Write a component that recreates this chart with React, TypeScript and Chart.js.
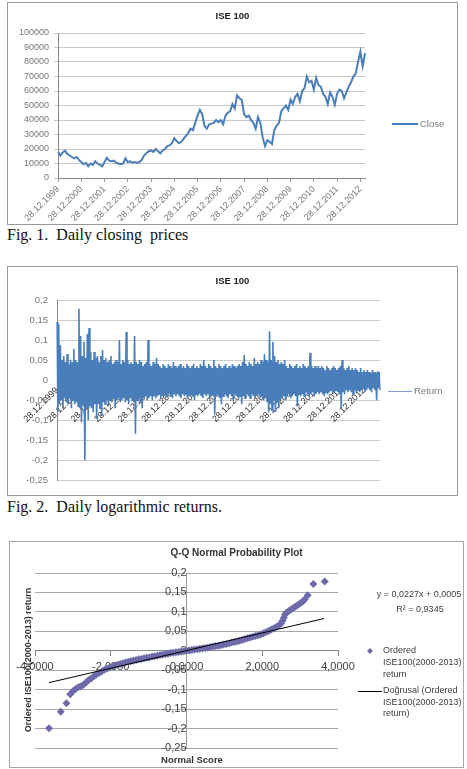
import { useEffect, useRef } from 'react';
import { Chart, registerables } from 'chart.js';

Chart.register(...registerables);

const FONT = '"Liberation Sans", Arial, Helvetica, sans-serif';
const SERIF = '"Liberation Serif", "Times New Roman", serif';

// ---------- Fig. 1 : daily closing prices ----------
const closeTitle = 'ISE 100';
const closeLegend = 'Close';
const closeTickLabels = [
  '28.12.1999', '28.12.2000', '28.12.2001', '28.12.2002', '28.12.2003', '28.12.2004', '28.12.2005',
  '28.12.2006', '28.12.2007', '28.12.2008', '28.12.2009', '28.12.2010', '28.12.2011', '28.12.2012',
];
const closeValues = [
  18000, 15500, 17500, 19000, 16500, 15500, 14500, 13500, 14500, 12500,
  11000, 9500, 10500, 8000, 10000, 9000, 11500, 10000, 9000, 8000,
  11000, 14000, 12000, 11500, 12000, 10500, 10000, 9500, 10000, 13500,
  11000, 11500, 10500, 11000, 10500, 11000, 12500, 15500, 17000, 18500,
  19000, 18000, 20000, 18500, 17000, 19000, 20000, 22000, 22500, 24000,
  27500, 25500, 24000, 25000, 27000, 29000, 31000, 34000, 33000, 38000,
  43000, 47000, 44000, 36000, 34000, 37000, 37500, 38000, 40000, 38500,
  40000, 37000, 43000, 45000, 46000, 51000, 48000, 57000, 55000, 54000,
  44000, 42000, 43000, 40000, 38000, 34000, 42000, 38000, 28000, 22000,
  26000, 25000, 23500, 33000, 36000, 38000, 46000, 48000, 50000, 47000,
  54000, 51000, 56000, 58000, 53000, 60000, 62000, 70000, 66000, 67000,
  61000, 69000, 64000, 63000, 58000, 56000, 51000, 59000, 56000, 50500,
  58000, 61000, 60000, 55000, 59000, 63000, 66000, 70000, 72000, 80000,
  87000, 77000, 86000,
];
const closeTickEvery = 10;

// ---------- Fig. 2 : daily log returns (per-bin high / low) ----------
const returnTitle = 'ISE 100';
const returnLegend = 'Return';
const returnTickLabels = [
  '28.12.1999', '28.12.2000', '28.12.2001', '28.12.2002', '28.12.2003', '28.12.2004', '28.12.2005',
  '28.12.2006', '28.12.2007', '28.12.2008', '28.12.2009', '28.12.2010', '28.12.2011', '28.12.2012',
];
const returnHigh = [
  0.145, 0.14, 0.087, 0.05, 0.06, 0.045, 0.065, 0.04, 0.05, 0.045, 0.078, 0.05,
  0.045, 0.178, 0.11, 0.06, 0.095, 0.055, 0.115, 0.13, 0.07, 0.05, 0.07, 0.055,
  0.06, 0.045, 0.06, 0.075, 0.05, 0.055, 0.045, 0.05, 0.06, 0.04, 0.045, 0.05,
  0.045, 0.10, 0.04, 0.05, 0.045, 0.12, 0.05, 0.04, 0.045, 0.04, 0.11, 0.045,
  0.04, 0.05, 0.045, 0.035, 0.04, 0.045, 0.10, 0.04, 0.035, 0.045, 0.04, 0.055,
  0.04, 0.035, 0.03, 0.04, 0.035, 0.03, 0.04, 0.035, 0.03, 0.045, 0.035, 0.03,
  0.035, 0.04, 0.03, 0.035, 0.03, 0.04, 0.035, 0.03, 0.035, 0.04, 0.03, 0.035,
  0.03, 0.04, 0.035, 0.05, 0.035, 0.03, 0.04, 0.035, 0.03, 0.05, 0.035, 0.03,
  0.04, 0.035, 0.03, 0.035, 0.04, 0.03, 0.035, 0.03, 0.04, 0.035, 0.03, 0.035,
  0.04, 0.035, 0.045, 0.063, 0.04, 0.035, 0.045, 0.04, 0.035, 0.055, 0.04, 0.045,
  0.04, 0.05, 0.045, 0.065, 0.05, 0.045, 0.122, 0.05, 0.096, 0.06, 0.045, 0.05,
  0.04, 0.045, 0.04, 0.05, 0.035, 0.03, 0.04, 0.035, 0.03, 0.035, 0.04, 0.03,
  0.035, 0.03, 0.04, 0.035, 0.03, 0.035, 0.068, 0.035, 0.03, 0.035, 0.03, 0.035,
  0.03, 0.035, 0.03, 0.025, 0.035, 0.03, 0.025, 0.03, 0.035, 0.03, 0.025, 0.03,
  0.035, 0.05, 0.03, 0.025, 0.03, 0.035, 0.025, 0.03, 0.025, 0.03, 0.025, 0.02,
  0.03, 0.02, 0.025, 0.02, 0.025, 0.02, 0.018, 0.025, 0.02, 0.018, 0.022, 0.02,
];
const returnLow = [
  -0.08, -0.06, -0.05, -0.07, -0.045, -0.055, -0.06, -0.045, -0.07, -0.05, -0.06, -0.055,
  -0.065, -0.07, -0.105, -0.06, -0.2, -0.07, -0.10, -0.065, -0.07, -0.08, -0.06, -0.097,
  -0.06, -0.07, -0.09, -0.055, -0.06, -0.05, -0.065, -0.05, -0.055, -0.045, -0.07, -0.05,
  -0.045, -0.055, -0.05, -0.045, -0.055, -0.05, -0.06, -0.045, -0.05, -0.055, -0.134, -0.05,
  -0.045, -0.055, -0.07, -0.045, -0.04, -0.05, -0.045, -0.04, -0.05, -0.04, -0.045, -0.04,
  -0.035, -0.045, -0.04, -0.035, -0.045, -0.04, -0.035, -0.04, -0.045, -0.035, -0.04, -0.035,
  -0.04, -0.045, -0.035, -0.04, -0.035, -0.045, -0.04, -0.035, -0.04, -0.05, -0.035, -0.04,
  -0.035, -0.04, -0.045, -0.035, -0.04, -0.035, -0.045, -0.04, -0.035, -0.086, -0.04, -0.035,
  -0.045, -0.06, -0.04, -0.035, -0.04, -0.045, -0.035, -0.04, -0.05, -0.035, -0.04, -0.045,
  -0.04, -0.06, -0.04, -0.045, -0.035, -0.04, -0.045, -0.035, -0.04, -0.045, -0.04, -0.035,
  -0.045, -0.04, -0.05, -0.045, -0.055, -0.08, -0.06, -0.075, -0.05, -0.08, -0.055, -0.07,
  -0.05, -0.045, -0.04, -0.05, -0.04, -0.035, -0.045, -0.04, -0.035, -0.04, -0.065, -0.035,
  -0.04, -0.035, -0.04, -0.03, -0.035, -0.04, -0.035, -0.03, -0.04, -0.035, -0.03, -0.035,
  -0.03, -0.035, -0.04, -0.03, -0.035, -0.03, -0.025, -0.035, -0.03, -0.025, -0.03, -0.035,
  -0.07, -0.03, -0.035, -0.025, -0.03, -0.025, -0.03, -0.035, -0.025, -0.03, -0.025, -0.03,
  -0.025, -0.02, -0.03, -0.025, -0.02, -0.025, -0.03, -0.02, -0.025, -0.05, -0.02, -0.025,
];
const returnTickEvery = 28; // data points between date labels

// ---------- Fig. 3 : Q-Q normal probability plot ----------
const qqTitle = 'Q-Q Normal Probability Plot';
const qqXTitle = 'Normal Score';
const qqYTitle = 'Ordered ISE100(2000-2013) return';
const qqScores = [
  -3.63, -3.32, -3.17, -3.07, -3.00, -2.93, -2.86, -2.80, -2.73, -2.66, -2.59, -2.52, -2.45,
  -2.38, -2.31, -2.24, -2.17, -2.10, -2.03, -1.96, -1.89, -1.82, -1.75, -1.68, -1.61, -1.54,
  -1.47, -1.40, -1.33, -1.26, -1.19, -1.12, -1.05, -0.98, -0.91, -0.84, -0.77, -0.70, -0.63,
  -0.56, -0.49, -0.42, -0.35, -0.28, -0.21, -0.14, -0.07, 0, 0.07, 0.14, 0.21, 0.28, 0.35,
  0.42, 0.49, 0.56, 0.63, 0.70, 0.77, 0.84, 0.91, 0.98, 1.05, 1.12, 1.19, 1.26, 1.33, 1.40,
  1.47, 1.54, 1.61, 1.68, 1.75, 1.82, 1.89, 1.96, 2.03, 2.10, 2.17, 2.24, 2.31, 2.38, 2.45,
  2.50, 2.54, 2.57, 2.60, 2.64, 2.70, 2.76, 2.82, 2.88, 2.94, 3.00, 3.06, 3.12, 3.20, 3.35, 3.65,
];
const qqReturns = [
  -0.199, -0.157, -0.135, -0.112, -0.104, -0.098, -0.094, -0.092, -0.088, -0.082, -0.076, -0.071, -0.066,
  -0.061, -0.057, -0.053, -0.049, -0.046, -0.043, -0.040, -0.038, -0.036, -0.034, -0.032, -0.030, -0.028,
  -0.027, -0.025, -0.024, -0.022, -0.021, -0.019, -0.018, -0.017, -0.015, -0.014, -0.013, -0.011, -0.010,
  -0.0085, -0.0075, -0.006, -0.005, -0.004, -0.003, -0.002, -0.001, 0, 0.001, 0.002, 0.003, 0.004, 0.005,
  0.006, 0.007, 0.008, 0.0095, 0.011, 0.012, 0.013, 0.0145, 0.016, 0.0175, 0.019, 0.021, 0.0225, 0.024, 0.026,
  0.028, 0.030, 0.032, 0.034, 0.036, 0.038, 0.040, 0.042, 0.045, 0.048, 0.051, 0.055, 0.058, 0.062, 0.066,
  0.071, 0.078, 0.085, 0.093, 0.098, 0.102, 0.106, 0.110, 0.114, 0.118, 0.122, 0.126, 0.132, 0.143, 0.172, 0.178,
];
const trendScores = [-3.63, 3.63];
const trendReturns = [-0.0819, 0.0829];
const trendEquation = 'y = 0,0227x + 0,0005';
const trendR2 = 'R\u00B2 = 0,9345';
const qqLegendPoints = ['Ordered', 'ISE100(2000-2013)', 'return'];
const qqLegendLine = ['Do\u011Frusal (Ordered', 'ISE100(2000-2013)', 'return)'];

const figCaption1 = 'Fig. 1.  Daily closing  prices';
const figCaption2 = 'Fig. 2.  Daily logarithmic returns.';

const BLUE = '#4A7EBB';
const PURPLE = '#6E6AAA';

const commaDec = (v: any) => String(Number(Number(v).toFixed(2))).replace('.', ',');

// ---------- configs ----------
function makeCloseConfig(): any {
  const decor = {
    id: 'closeDecor',
    afterDraw(chart: any) {
      const ctx = chart.ctx;
      ctx.save();
      ctx.textBaseline = 'middle';
      ctx.textAlign = 'center';
      ctx.fillStyle = '#222';
      ctx.font = `bold 9.5px ${FONT}`;
      ctx.fillText(closeTitle, chart.width / 2, 13);
      ctx.strokeStyle = BLUE;
      ctx.lineWidth = 2;
      ctx.beginPath();
      ctx.moveTo(384, 121);
      ctx.lineTo(410, 121);
      ctx.stroke();
      ctx.textAlign = 'left';
      ctx.fillStyle = '#777';
      ctx.font = `9.5px ${FONT}`;
      ctx.fillText(closeLegend, 412, 121);
      ctx.restore();
    },
  };
  return {
    type: 'line',
    data: {
      labels: closeValues.map((_, i) => String(i)),
      datasets: [{ label: closeLegend, data: closeValues, borderColor: BLUE, borderWidth: 2, pointRadius: 0, tension: 0 }],
    },
    options: {
      responsive: false,
      animation: false,
      layout: { padding: { top: 30, right: 92, left: 0, bottom: 0 } },
      plugins: { legend: { display: false }, title: { display: false }, tooltip: { enabled: false } },
      scales: {
        x: {
          type: 'category',
          grid: { drawOnChartArea: false, tickLength: 4, color: '#999' },
          border: { color: '#888' },
          ticks: {
            autoSkip: false, minRotation: 45, maxRotation: 45, padding: 2,
            font: { size: 9, family: FONT }, color: '#777',
            callback: (v: any) => closeTickLabels[v / closeTickEvery],
          },
          afterBuildTicks: (s: any) => { s.ticks = s.ticks.filter((t: any) => t.value % closeTickEvery === 0); },
          afterFit: (s: any) => { s.height = 46; },
        },
        y: {
          min: 0, max: 100000,
          ticks: { stepSize: 10000, callback: (v: any) => String(v), font: { size: 9, family: FONT }, color: '#777', padding: 5 },
          grid: { color: '#c8c8c8', tickLength: 4 },
          border: { color: '#888' },
          afterFit: (s: any) => { s.width = 50; },
        },
      },
    },
    plugins: [decor],
  };
}

function makeReturnConfig(): any {
  const series: number[] = [];
  returnHigh.forEach((h, i) => { series.push(h); series.push(returnLow[i]); });
  const decor = {
    id: 'returnDecor',
    afterDraw(chart: any) {
      const ctx = chart.ctx;
      ctx.save();
      ctx.textBaseline = 'middle';
      ctx.textAlign = 'center';
      ctx.fillStyle = '#222';
      ctx.font = `bold 9.5px ${FONT}`;
      ctx.fillText(returnTitle, chart.width / 2, 14);
      ctx.strokeStyle = '#7FA3D0';
      ctx.lineWidth = 1;
      ctx.beginPath();
      ctx.moveTo(380, 124.5);
      ctx.lineTo(404, 124.5);
      ctx.stroke();
      ctx.textAlign = 'left';
      ctx.fillStyle = '#777';
      ctx.font = `9.5px ${FONT}`;
      ctx.fillText(returnLegend, 406, 124);
      ctx.restore();
    },
  };
  return {
    type: 'line',
    data: {
      labels: series.map((_, i) => String(i)),
      datasets: [{ label: returnLegend, data: series, borderColor: BLUE, borderWidth: 1.6, pointRadius: 0, tension: 0 }],
    },
    options: {
      responsive: false,
      animation: false,
      layout: { padding: { top: 33, right: 77, left: 0, bottom: 11 } },
      plugins: { legend: { display: false }, title: { display: false }, tooltip: { enabled: false } },
      scales: {
        x: {
          type: 'category',
          position: { y: 0 },
          grid: { display: false, drawTicks: false },
          border: { display: false },
          ticks: {
            autoSkip: false, minRotation: 45, maxRotation: 45, padding: 5,
            font: { size: 9, family: FONT }, color: '#333',
            callback: (v: any) => returnTickLabels[v / returnTickEvery],
          },
          afterBuildTicks: (s: any) => { s.ticks = s.ticks.filter((t: any) => t.value % returnTickEvery === 0); },
          afterFit: (s: any) => { s.height = 0; },
        },
        y: {
          min: -0.25, max: 0.2,
          ticks: { stepSize: 0.05, callback: commaDec, font: { size: 9.5, family: FONT }, color: '#777', padding: 9 },
          grid: { color: '#cccccc', drawTicks: false },
          border: { color: '#888' },
          afterFit: (s: any) => { s.width = 49; },
        },
      },
    },
    plugins: [decor],
  };
}

function makeQQConfig(): any {
  const decor = {
    id: 'qqDecor',
    afterDraw(chart: any) {
      const ctx = chart.ctx;
      ctx.save();
      ctx.textBaseline = 'middle';
      ctx.textAlign = 'center';
      ctx.fillStyle = '#333';
      ctx.font = `bold 10px ${FONT}`;
      ctx.fillText(qqTitle, chart.width / 2, 11);
      ctx.font = `bold 9.5px ${FONT}`;
      ctx.fillText(qqXTitle, 182, 218);
      ctx.save();
      ctx.translate(19, 118);
      ctx.rotate(-Math.PI / 2);
      ctx.font = `bold 9px ${FONT}`;
      ctx.fillText(qqYTitle, 0, 0);
      ctx.restore();
      ctx.fillStyle = '#404040';
      ctx.font = `9px ${FONT}`;
      ctx.fillText(trendEquation, 409, 53);
      ctx.fillText(trendR2, 410, 68);
      // legend
      ctx.textAlign = 'left';
      ctx.font = `9px ${FONT}`;
      ctx.fillStyle = PURPLE;
      ctx.beginPath();
      ctx.moveTo(360, 106);
      ctx.lineTo(363, 109);
      ctx.lineTo(360, 112);
      ctx.lineTo(357, 109);
      ctx.closePath();
      ctx.fill();
      ctx.fillStyle = '#404040';
      qqLegendPoints.forEach((t, i) => ctx.fillText(t, 373, 109 + i * 11.7));
      ctx.strokeStyle = '#000';
      ctx.lineWidth = 1;
      ctx.beginPath();
      ctx.moveTo(348, 149.5);
      ctx.lineTo(372, 149.5);
      ctx.stroke();
      qqLegendLine.forEach((t, i) => ctx.fillText(t, 373, 149 + i * 11.3));
      ctx.restore();
    },
  };
  return {
    type: 'scatter',
    data: {
      datasets: [
        {
          type: 'line',
          label: qqLegendLine.join(' '),
          data: trendScores.map((x, i) => ({ x, y: trendReturns[i] })),
          borderColor: '#000', borderWidth: 1, pointRadius: 0, order: 0,
        },
        {
          label: qqLegendPoints.join(' '),
          data: qqScores.map((x, i) => ({ x, y: qqReturns[i] })),
          pointStyle: 'rectRot', pointRadius: 4, backgroundColor: PURPLE, borderColor: PURPLE, borderWidth: 0, order: 1,
        },
      ],
    },
    options: {
      responsive: false,
      animation: false,
      layout: { padding: { top: 31, right: 125, left: 25, bottom: 19 } },
      plugins: { legend: { display: false }, title: { display: false }, tooltip: { enabled: false } },
      scales: {
        x: {
          type: 'linear',
          position: { y: 0 },
          min: -4, max: 4,
          ticks: {
            stepSize: 2, padding: 5, font: { size: 11, family: FONT }, color: '#404040',
            callback: (v: any) => Number(v).toFixed(4).replace('.', ','),
          },
          grid: { drawOnChartArea: false, tickLength: 5, color: '#888' },
          border: { color: '#888' },
          afterFit: (s: any) => { s.height = 0; },
        },
        y: {
          type: 'linear',
          position: { x: 0 },
          min: -0.25, max: 0.2,
          ticks: { stepSize: 0.05, padding: 3, font: { size: 11, family: FONT }, color: '#404040', callback: commaDec },
          grid: { color: '#a8a8a8', drawTicks: false },
          border: { color: '#999' },
          afterFit: (s: any) => { s.width = 0; },
        },
      },
    },
    plugins: [decor],
  };
}

function ChartBox(props: { left: number; top: number; width: number; height: number; border: string; bw: number; make: () => any }) {
  const ref = useRef<HTMLCanvasElement>(null);
  const { left, top, width, height, border, bw, make } = props;
  useEffect(() => {
    const chart = new Chart(ref.current as HTMLCanvasElement, make());
    return () => chart.destroy();
  }, []);
  return (
    <div style={{ position: 'absolute', left, top, width, height, border, boxSizing: 'border-box', background: '#fff' }}>
      <canvas ref={ref} width={width - 2 * bw} height={height - 2 * bw} style={{ display: 'block' }} />
    </div>
  );
}

const captionStyle: any = {
  position: 'absolute', left: 7, fontFamily: SERIF, fontSize: 16, lineHeight: '18px',
  whiteSpace: 'pre', color: '#111',
};

export default function App() {
  return (
    <div style={{ position: 'fixed', left: 0, top: 0, width: 467, height: 769, background: '#fff', overflow: 'hidden' }}>
      <ChartBox left={7} top={2} width={451} height={223} border="1px solid #999" bw={1} make={makeCloseConfig} />
      <div style={{ ...captionStyle, top: 226 }}>{figCaption1}</div>
      <ChartBox left={7} top={266} width={451} height={230} border="1px solid #999" bw={1} make={makeReturnConfig} />
      <div style={{ ...captionStyle, top: 498 }}>{figCaption2}</div>
      <ChartBox left={9} top={541} width={455} height={227} border="1px solid #a6a6a6" bw={1} make={makeQQConfig} />
    </div>
  );
}
